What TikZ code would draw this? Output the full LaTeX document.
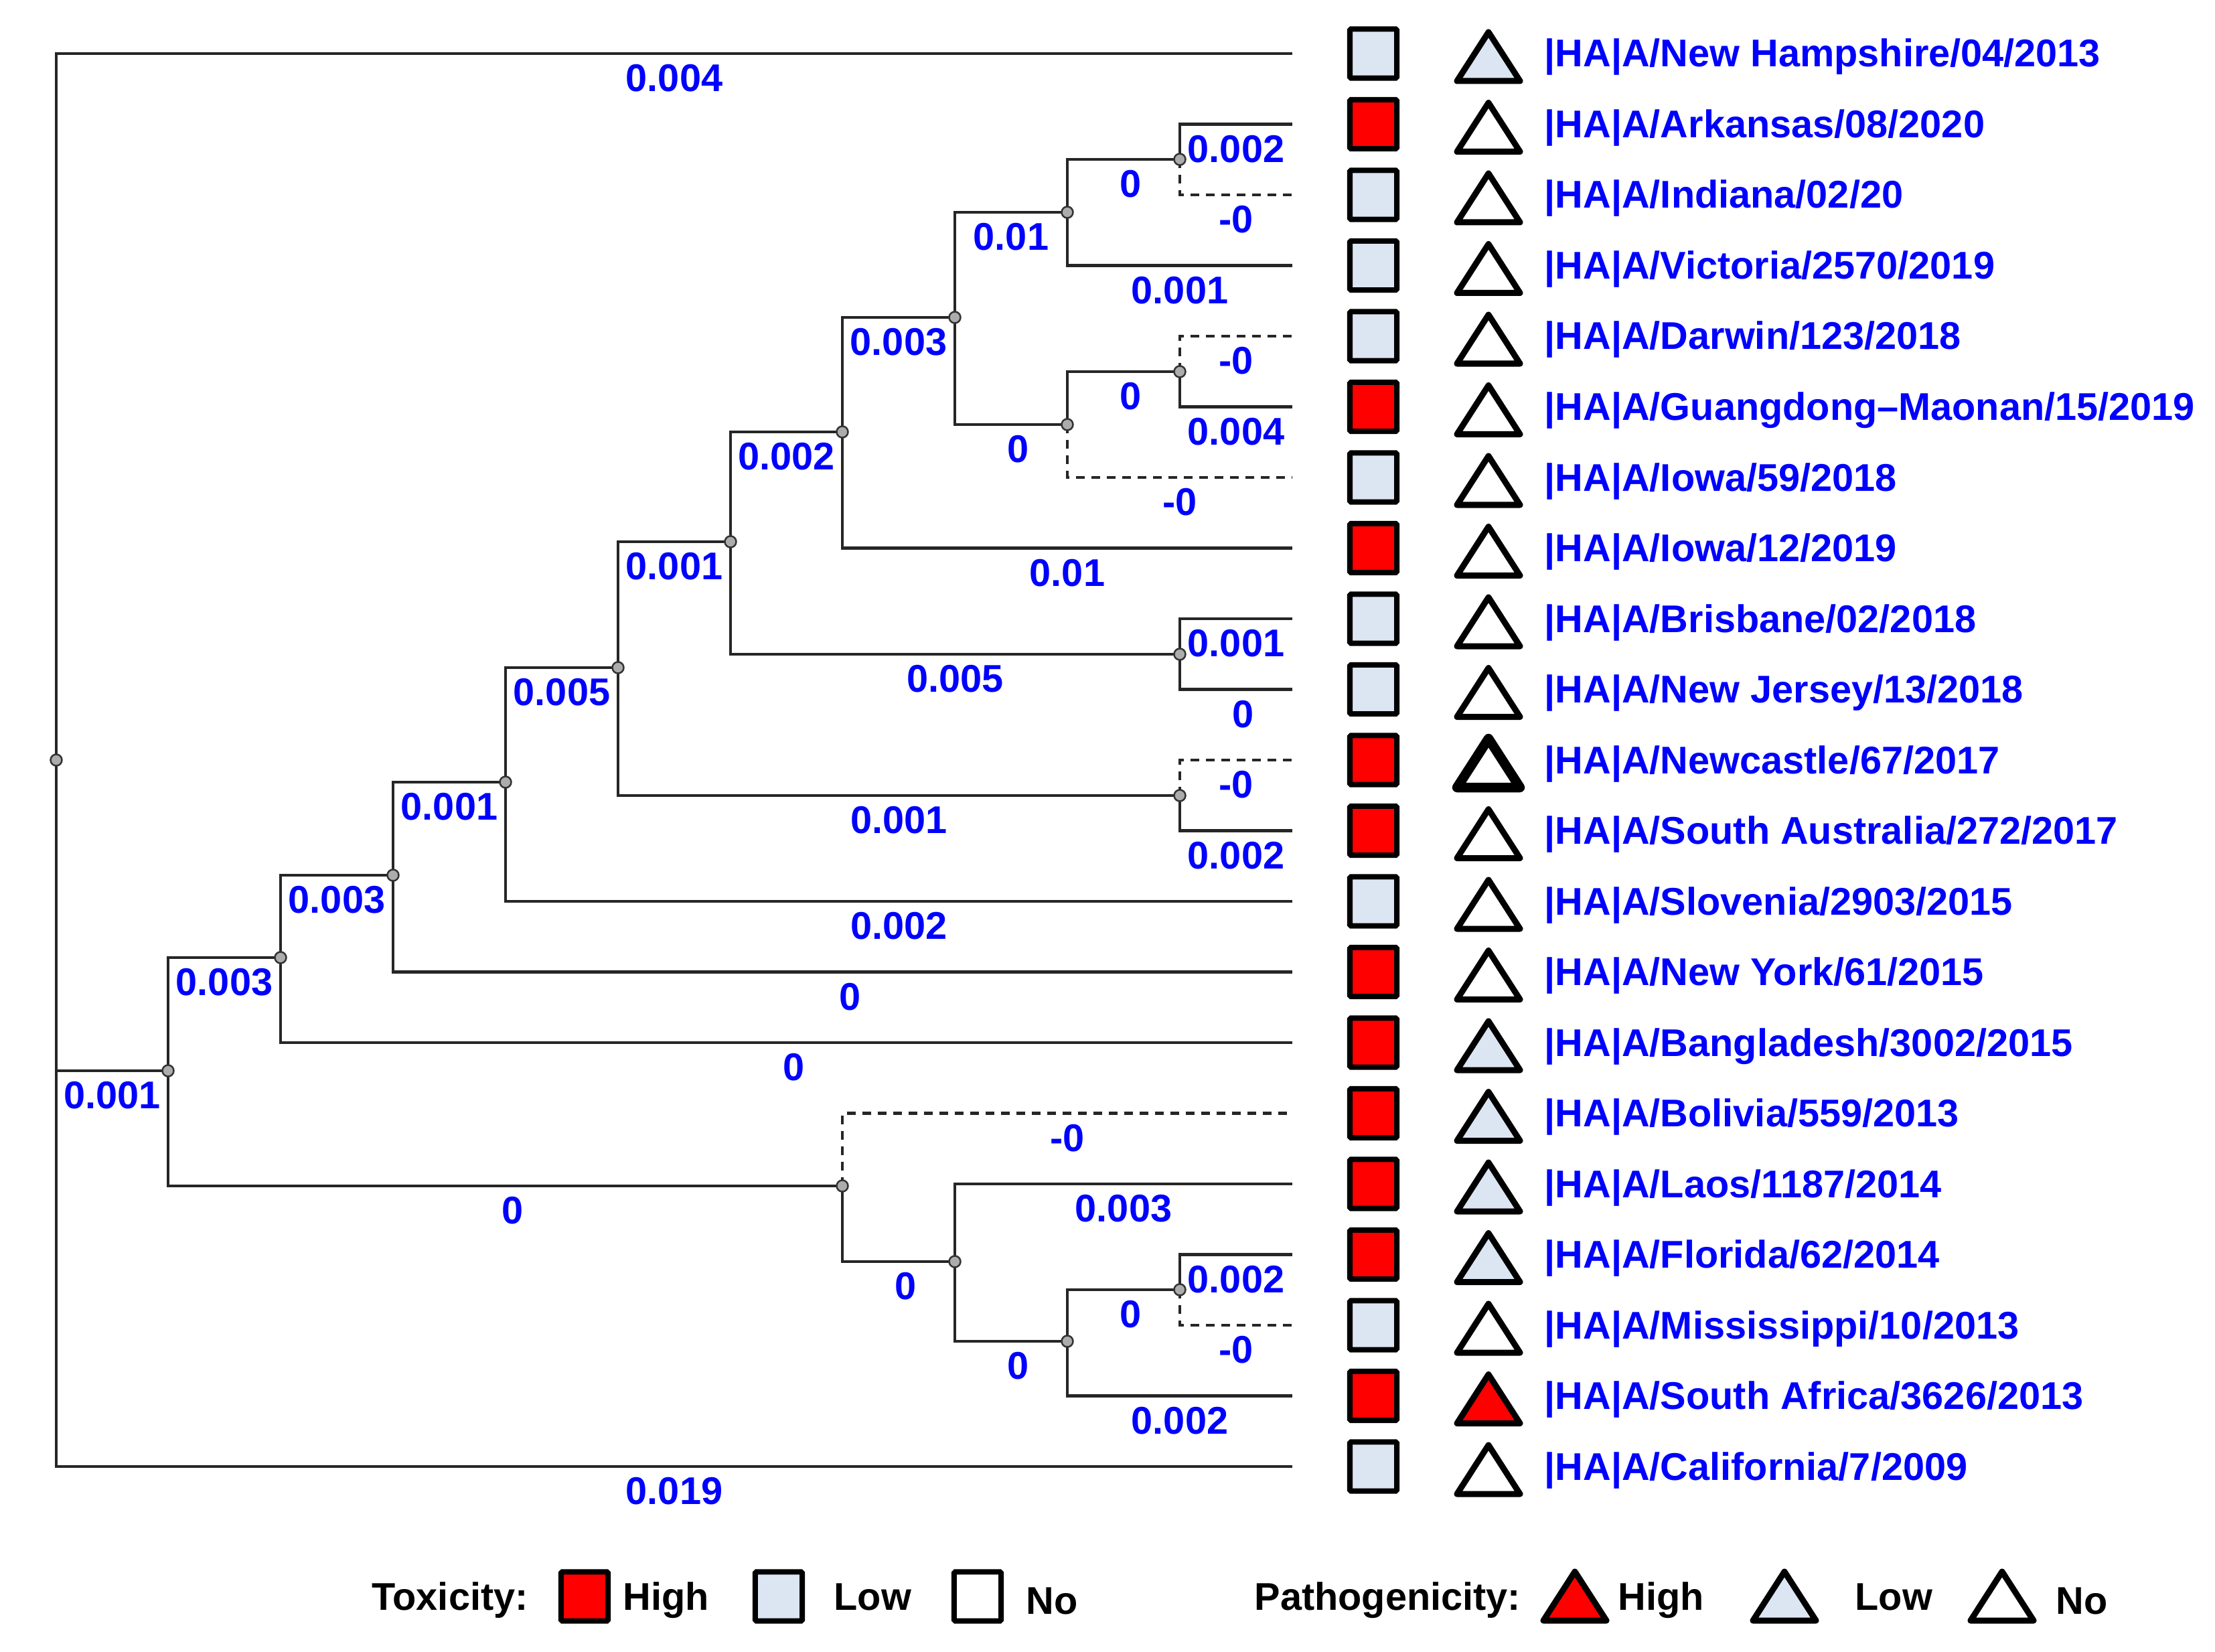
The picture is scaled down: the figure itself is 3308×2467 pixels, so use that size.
\documentclass[tikz,border=0pt]{standalone}
\usepackage{fontspec}
\setmainfont{Liberation Sans}
\definecolor{high}{RGB}{255,0,0}
\definecolor{low}{RGB}{220,230,242}
\tikzset{
  br/.style={line width=0.048cm, draw=black!85},
  neg/.style={br, dash pattern=on 0.13cm off 0.1cm},
  lab/.style={pos=.75, yshift=-0.37cm, inner sep=0pt, text=blue, font=\fontsize{16.4pt}{19pt}\selectfont\bfseries},
  zero/.style={lab, xshift=0.11cm},
  dot/.style={fill=gray!65, draw=black!80, line width=0.025cm},
  tox/.style={draw=black, line width=0.08cm, rounded corners=0.015cm, minimum width=0.70cm, minimum height=0.73cm, inner sep=0pt},
  pat/.style={draw=black, line join=round},
  pics/ptri/.style={code={\path[pat,line width=#1,pic actions] (-47,36) -- (0,-37) -- (47,36) -- cycle;}},
  pics/ptri/.default=0.09cm,
  strain/.style={anchor=base west, inner sep=0pt, text=blue, font=\fontsize{16.4pt}{19pt}\selectfont\bfseries},
  key/.style={anchor=base west, inner sep=0pt, font=\fontsize{16.4pt}{19pt}\selectfont\bfseries}
}
\begin{document}
\begin{tikzpicture}[x=0.01cm, y=-0.01cm]
\useasboundingbox (0,0) rectangle (3308,2467);
% leaf ends
\coordinate(1) at (1930,80);
\coordinate(2) at (1930,185.5);
\coordinate(3) at (1930,291);
\coordinate(4) at (1930,396.5);
\coordinate(5) at (1930,502);
\coordinate(6) at (1930,607.5);
\coordinate(7) at (1930,713);
\coordinate(8) at (1930,818.5);
\coordinate(9) at (1930,924);
\coordinate(10) at (1930,1029.5);
\coordinate(11) at (1930,1135);
\coordinate(12) at (1930,1240.5);
\coordinate(13) at (1930,1346);
\coordinate(14) at (1930,1451.5);
\coordinate(15) at (1930,1557);
\coordinate(16) at (1930,1662.5);
\coordinate(17) at (1930,1768);
\coordinate(18) at (1930,1873.5);
\coordinate(19) at (1930,1979);
\coordinate(20) at (1930,2084.5);
\coordinate(21) at (1930,2190);
% inner nodes
\coordinate(22) at (1762,238);
\coordinate(23) at (1594,317);
\coordinate(24) at (1762,555);
\coordinate(25) at (1594,634);
\coordinate(26) at (1426,474);
\coordinate(27) at (1258,645);
\coordinate(28) at (1762,977);
\coordinate(29) at (1091,809);
\coordinate(30) at (1762,1188);
\coordinate(31) at (923,997);
\coordinate(32) at (755,1168);
\coordinate(33) at (587,1307);
\coordinate(34) at (419,1430);
\coordinate(35) at (1762,1926);
\coordinate(36) at (1594,2003);
\coordinate(37) at (1426,1884);
\coordinate(38) at (1258,1771);
\coordinate(39) at (251,1599);
\coordinate(40) at (84,1135);
\draw[br] (40) |- node[lab] {0.004} (1);
\draw[br] (40) |- node[lab] {0.019} (21);
\draw[br] (40) |- node[lab] {0.001} (39);
\draw[br] (39) |- node[lab] {0.003} (34);
\draw[br] (39) |- node[zero] {0} (38);
\draw[br] (34) |- node[lab] {0.003} (33);
\draw[br] (34) |- node[zero] {0} (15);
\draw[br] (33) |- node[lab] {0.001} (32);
\draw[br] (33) |- node[zero] {0} (14);
\draw[br] (32) |- node[lab] {0.005} (31);
\draw[br] (32) |- node[lab] {0.002} (13);
\draw[br] (31) |- node[lab] {0.001} (29);
\draw[br] (31) |- node[lab] {0.001} (30);
\draw[br] (29) |- node[lab] {0.002} (27);
\draw[br] (29) |- node[lab] {0.005} (28);
\draw[br] (27) |- node[lab] {0.003} (26);
\draw[br] (27) |- node[lab] {0.01} (8);
\draw[br] (26) |- node[lab] {0.01} (23);
\draw[br] (26) |- node[zero] {0} (25);
\draw[br] (23) |- node[zero] {0} (22);
\draw[br] (23) |- node[lab] {0.001} (4);
\draw[br] (22) |- node[lab] {0.002} (2);
\draw[neg] (22) |- node[lab] {-0} (3);
\draw[br] (25) |- node[zero] {0} (24);
\draw[neg] (25) |- node[lab] {-0} (7);
\draw[neg] (24) |- node[lab] {-0} (5);
\draw[br] (24) |- node[lab] {0.004} (6);
\draw[br] (28) |- node[lab] {0.001} (9);
\draw[br] (28) |- node[zero] {0} (10);
\draw[neg] (30) |- node[lab] {-0} (11);
\draw[br] (30) |- node[lab] {0.002} (12);
\draw[neg] (38) |- node[lab] {-0} (16);
\draw[br] (38) |- node[zero] {0} (37);
\draw[br] (37) |- node[lab] {0.003} (17);
\draw[br] (37) |- node[zero] {0} (36);
\draw[br] (36) |- node[zero] {0} (35);
\draw[br] (36) |- node[lab] {0.002} (20);
\draw[br] (35) |- node[lab] {0.002} (18);
\draw[neg] (35) |- node[lab] {-0} (19);
\path[dot] (22) circle (0.085cm) (23) circle (0.085cm) (24) circle (0.085cm) (25) circle (0.085cm)
  (26) circle (0.085cm) (27) circle (0.085cm) (28) circle (0.085cm) (29) circle (0.085cm)
  (30) circle (0.085cm) (31) circle (0.085cm) (32) circle (0.085cm) (33) circle (0.085cm)
  (34) circle (0.085cm) (35) circle (0.085cm) (36) circle (0.085cm) (37) circle (0.085cm)
  (38) circle (0.085cm) (39) circle (0.085cm) (40) circle (0.085cm);
% strains
\node[tox,fill=low] (s1) at (2051,80) {}; \pic[fill=low] (p1) at (2223,85) {ptri};
\node[strain] (t1) at (2306,100) {|HA|A/New Hampshire/04/2013};
\node[tox,fill=high] (s2) at (2051,185.5) {}; \pic[fill=white] (p2) at (2223,190.5) {ptri};
\node[strain] (t2) at (2306,205.5) {|HA|A/Arkansas/08/2020};
\node[tox,fill=low] (s3) at (2051,291) {}; \pic[fill=white] (p3) at (2223,296) {ptri};
\node[strain] (t3) at (2306,311) {|HA|A/Indiana/02/20};
\node[tox,fill=low] (s4) at (2051,396.5) {}; \pic[fill=white] (p4) at (2223,401.5) {ptri};
\node[strain] (t4) at (2306,416.5) {|HA|A/Victoria/2570/2019};
\node[tox,fill=low] (s5) at (2051,502) {}; \pic[fill=white] (p5) at (2223,507) {ptri};
\node[strain] (t5) at (2306,522) {|HA|A/Darwin/123/2018};
\node[tox,fill=high] (s6) at (2051,607.5) {}; \pic[fill=white] (p6) at (2223,612.5) {ptri};
\node[strain] (t6) at (2306,627.5) {|HA|A/Guangdong--Maonan/15/2019};
\node[tox,fill=low] (s7) at (2051,713) {}; \pic[fill=white] (p7) at (2223,718) {ptri};
\node[strain] (t7) at (2306,733) {|HA|A/Iowa/59/2018};
\node[tox,fill=high] (s8) at (2051,818.5) {}; \pic[fill=white] (p8) at (2223,823.5) {ptri};
\node[strain] (t8) at (2306,838.5) {|HA|A/Iowa/12/2019};
\node[tox,fill=low] (s9) at (2051,924) {}; \pic[fill=white] (p9) at (2223,929) {ptri};
\node[strain] (t9) at (2306,944) {|HA|A/Brisbane/02/2018};
\node[tox,fill=low] (s10) at (2051,1029.5) {}; \pic[fill=white] (p10) at (2223,1034.5) {ptri};
\node[strain] (t10) at (2306,1049.5) {|HA|A/New Jersey/13/2018};
\node[tox,fill=high] (s11) at (2051,1135) {}; \pic[fill=white] (p11) at (2223,1140) {ptri=0.145cm};
\node[strain] (t11) at (2306,1155) {|HA|A/Newcastle/67/2017};
\node[tox,fill=high] (s12) at (2051,1240.5) {}; \pic[fill=white] (p12) at (2223,1245.5) {ptri};
\node[strain] (t12) at (2306,1260.5) {|HA|A/South Australia/272/2017};
\node[tox,fill=low] (s13) at (2051,1346) {}; \pic[fill=white] (p13) at (2223,1351) {ptri};
\node[strain] (t13) at (2306,1366) {|HA|A/Slovenia/2903/2015};
\node[tox,fill=high] (s14) at (2051,1451.5) {}; \pic[fill=white] (p14) at (2223,1456.5) {ptri};
\node[strain] (t14) at (2306,1471.5) {|HA|A/New York/61/2015};
\node[tox,fill=high] (s15) at (2051,1557) {}; \pic[fill=low] (p15) at (2223,1562) {ptri};
\node[strain] (t15) at (2306,1577) {|HA|A/Bangladesh/3002/2015};
\node[tox,fill=high] (s16) at (2051,1662.5) {}; \pic[fill=low] (p16) at (2223,1667.5) {ptri};
\node[strain] (t16) at (2306,1682.5) {|HA|A/Bolivia/559/2013};
\node[tox,fill=high] (s17) at (2051,1768) {}; \pic[fill=low] (p17) at (2223,1773) {ptri};
\node[strain] (t17) at (2306,1788) {|HA|A/Laos/1187/2014};
\node[tox,fill=high] (s18) at (2051,1873.5) {}; \pic[fill=low] (p18) at (2223,1878.5) {ptri};
\node[strain] (t18) at (2306,1893.5) {|HA|A/Florida/62/2014};
\node[tox,fill=low] (s19) at (2051,1979) {}; \pic[fill=white] (p19) at (2223,1984) {ptri};
\node[strain] (t19) at (2306,1999) {|HA|A/Mississippi/10/2013};
\node[tox,fill=high] (s20) at (2051,2084.5) {}; \pic[fill=high] (p20) at (2223,2089.5) {ptri};
\node[strain] (t20) at (2306,2104.5) {|HA|A/South Africa/3626/2013};
\node[tox,fill=low] (s21) at (2051,2190) {}; \pic[fill=white] (p21) at (2223,2195) {ptri};
\node[strain] (t21) at (2306,2210) {|HA|A/California/7/2009};
% legend
\node[key] (k1) at (555,2404) {Toxicity:};
\node[tox,fill=high] (k2) at (873,2384) {};
\node[key] (k3) at (930,2404) {High};
\node[tox,fill=low] (k4) at (1163,2384) {};
\node[key] (k5) at (1245,2404) {Low};
\node[tox,fill=white] (k6) at (1460,2384) {};
\node[key] (k7) at (1532,2410) {No};
\node[key] (k8) at (1873,2404) {Pathogenicity:};
\pic[fill=high] (k9) at (2352,2384) {ptri};
\node[key] (k10) at (2416,2404) {High};
\pic[fill=low] (k11) at (2665,2384) {ptri};
\node[key] (k12) at (2770,2404) {Low};
\pic[fill=white] (k13) at (2990,2384) {ptri};
\node[key] (k14) at (3070,2410) {No};
\end{tikzpicture}
\end{document}
